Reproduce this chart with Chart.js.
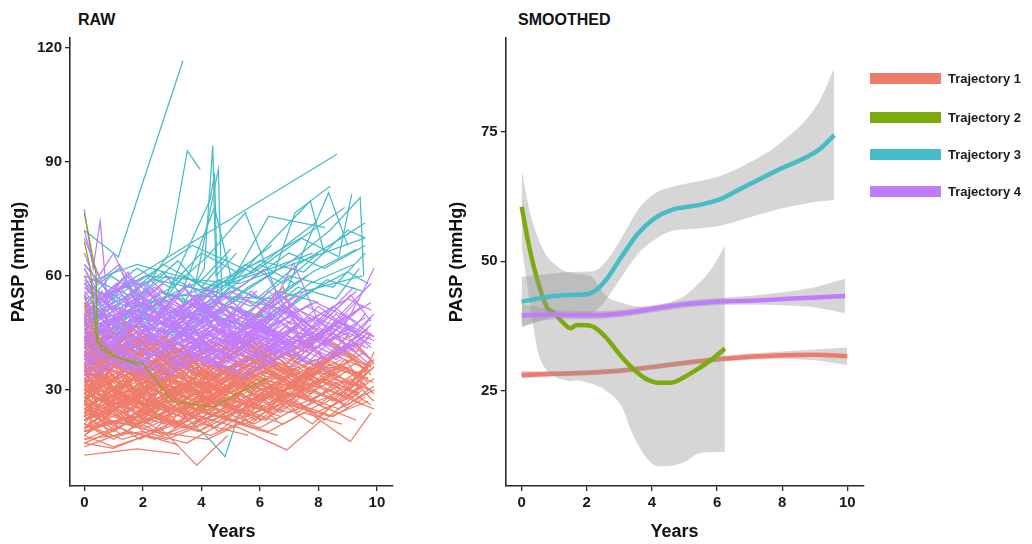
<!DOCTYPE html>
<html>
<head>
<meta charset="utf-8">
<title>PASP trajectories</title>
<script src="https://cdn.jsdelivr.net/npm/chart.js@4.4.1/dist/chart.umd.min.js"></script>
<style>
  body { margin: 0; width: 1032px; height: 544px; background: #fff; position: relative; overflow: hidden;
         font-family: "Liberation Sans", Arial, sans-serif; }
  canvas { position: absolute; top: 0; }
  #raw { left: 0; }
  #smooth { left: 438px; }
  .panel-title { position: absolute; top: 12px; font-size: 16px; line-height: 16px; font-weight: bold; color: #111; }
  .legend-row { position: absolute; left: 870px; height: 20px; display: flex; align-items: center; }
  .legend-row span.key { display: inline-block; width: 71px; height: 11px; margin-right: 7px; }
  .legend-row span.lab { font-size: 13px; font-weight: bold; color: #1a1a1a; }
</style>
</head>
<body>
<div class="panel-title" style="left:78px">RAW</div>
<div class="panel-title" style="left:518px">SMOOTHED</div>
<canvas id="raw" width="460" height="544"></canvas>
<canvas id="smooth" width="594" height="544"></canvas>
<div id="legend"></div>

<script>
const FONT = '"Liberation Sans", Arial, sans-serif';

// groups
const trajNames = ['Trajectory 1', 'Trajectory 2', 'Trajectory 3', 'Trajectory 4'];
const trajColors = ['#EF7C6A', '#7CAB10', '#45BCC6', '#C07DFB'];

// axis ticks
const rawXTicks = [0, 2, 4, 6, 8, 10];
const rawYTicks = [30, 60, 90, 120];
const smoothXTicks = [0, 2, 4, 6, 8, 10];
const smoothYTicks = [25, 50, 75];

// RAW panel: one array per patient, flat pairs of (years, PASP)
const raw1 = [
  [0,28, 0.9,24, 2.1,31, 3.4,27, 4.6,33],
  [0,35, 1.2,30, 2.5,38, 3.1,29, 4.8,36, 6.0,31],
  [0,22, 0.6,26, 1.8,20, 3.0,25, 4.4,22],
  [0,41, 1.0,36, 1.9,43, 3.3,34, 4.1,40],
  [0,19, 1.5,23, 2.7,18, 4.0,24, 5.5,21, 6.8,27],
  [0,31, 0.5,38, 1.4,29, 2.2,34, 3.8,30, 5.2,37, 6.4,33, 7.9,38, 9.2,31],
  [0,26, 1.1,21, 2.4,27, 3.7,23, 5.1,28, 6.2,25],
  [0,45, 0.8,39, 1.7,46, 2.9,38, 3.5,42],
  [0,17, 2.0,19, 3.5,16, 4.9,22, 6.3,19, 7.5,24, 8.8,21],
  [0,33, 1.3,27, 2.6,35, 4.2,28, 5.8,34, 7.0,30, 8.4,36, 9.7,33],
  [0,24, 0.7,29, 1.6,23, 3.2,30, 4.5,26],
  [0,38, 1.9,32, 3.0,40, 4.3,33, 5.6,39, 6.6,34],
  [0,21, 1.0,17, 2.3,23, 3.9,19, 5.0,25],
  [0,29, 0.4,34, 1.5,27, 2.8,33, 4.1,29, 5.4,35, 6.9,31, 8.2,37, 9.5,34],
  [0,12.8, 1.8,14.5, 3.27,13.1],
  [0,16, 0.99,14.6, 2.1,18, 3.2,15.5],
  [0,47, 0.6,41, 1.3,48, 2.0,40],
  [0,36, 1.4,41, 2.9,35, 4.6,42, 6.1,36, 7.3,41],
  [0,25, 1.2,31, 2.4,26, 3.6,32, 4.9,27, 6.5,33, 7.7,29, 9.0,35, 9.9,29],
  [0,32, 0.9,27, 2.2,33, 3.4,28, 4.7,31],
  [0,20, 1.6,25, 3.0,21, 4.5,27, 5.9,23, 7.2,28],
  [0,27, 0.5,23, 1.3,29, 2.0,24, 3.3,31],
  [0,52, 0.4,44, 1.2,37, 2.5,42],
  [0,40, 1.7,34, 3.1,41, 4.4,36, 5.7,43, 6.9,37, 8.0,44],
  [0,23, 1.1,28, 2.6,22, 4.0,29, 5.3,24, 6.7,30, 8.1,26, 9.4,32],
  [0,30, 2.1,26, 3.8,33, 5.0,28, 6.3,35, 7.6,30],
  [0,18, 0.8,22, 1.9,17, 3.1,22, 4.3,18, 5.8,23],
  [0,34, 1.0,39, 2.0,33, 3.5,38, 4.8,32, 6.0,39, 7.4,33, 8.6,40, 9.8,36],
  [0,43, 1.3,37, 2.7,44, 3.9,36],
  [0,26, 1.5,30, 2.9,25, 4.2,31, 5.5,26, 6.6,32, 7.8,28],
  [0,21, 0.7,18, 2.0,24, 3.6,20, 4.6,26, 6.2,22, 7.0,27, 8.5,23, 9.6,28],
  [0,37, 0.9,32, 2.4,38, 3.3,31, 4.5,37, 5.9,33],
  [0,29, 1.8,35, 3.2,29, 4.7,36, 6.1,30, 7.7,37, 9.1,32, 9.9,38],
  [0,24, 1.2,20, 2.5,26, 3.8,21, 5.2,27, 6.7,23],
  [0,15, 1.4,19, 2.8,17, 4.1,21, 5.6,18],
  [0,55, 0.3,46, 0.9,40, 2.0,45],
  [0,31, 1.0,26, 2.3,32, 3.7,26, 5.0,33, 6.4,28, 7.6,34, 8.9,30, 9.7,36],
  [0,39, 1.6,33, 2.8,39, 4.2,34],
  [0,27, 0.6,31, 1.8,26, 3.1,32, 4.4,27, 5.7,32, 7.1,28, 8.3,34],
  [0,19, 2.2,24, 3.9,19, 5.4,25, 6.8,21, 8.0,26, 9.3,22],
  [0,34, 1.1,29, 2.1,35, 3.5,30],
  [0,22, 1.3,27, 2.7,23, 4.3,28, 5.8,24, 7.2,29, 8.7,25, 9.9,30],
  [0,28, 0.8,33, 2.0,29, 3.0,35, 4.5,31, 6.0,36, 7.3,32],
  [0,42, 1.4,36, 2.5,42, 3.6,35, 5.0,41],
  [0,25, 1.9,21, 3.4,27, 4.8,23, 6.3,28, 7.9,24, 9.4,29],
  [0,33, 1.2,38, 2.6,32, 3.9,37, 5.3,33, 6.7,39, 8.2,34, 9.6,40],
  [0,20, 0.9,25, 2.2,21, 3.5,26, 4.9,22],
  [0,36, 1.5,31, 3.0,37, 4.5,32, 5.9,38, 7.4,33, 8.8,38],
  [0,30, 1.1,25, 2.4,30, 3.8,25, 5.1,31, 6.5,27, 7.8,32, 9.0,28, 9.9,33],
  [0,17, 1.4,21, 2.9,18, 4.7,23, 6.0,20, 7.2,25],
  [0,48, 0.7,42, 1.6,38, 2.8,43, 3.9,37],
  [0,26, 2.0,31, 3.6,26, 5.2,32, 6.9,28, 8.4,33, 9.8,30],
  [0,23, 1.0,19, 2.1,25, 3.3,21, 4.5,27, 5.9,22],
  [0,38, 1.2,34, 2.6,40, 4.0,35, 5.5,41, 7.0,36],
  [0,31, 1.7,27, 3.1,34, 4.4,29, 5.8,36, 7.1,31, 8.5,37, 9.7,33],
  [0,21, 1.3,17, 2.6,20, 3.84,10.2, 4.9,18],
  [0,27, 0.5,32, 1.6,28, 2.9,33, 4.2,28, 5.6,34, 6.8,30, 8.0,35],
  [0,35, 1.9,30, 3.4,36, 4.9,31, 6.4,37, 7.9,32, 9.2,38],
  [0,24, 1.1,29, 2.3,25, 3.6,30, 5.0,26, 6.3,31, 7.7,27, 9.1,33, 9.9,27],
  [0,29, 1.4,24, 2.8,29, 4.1,24, 5.5,30],
  [0,19, 0.9,22, 2.4,19, 3.9,23, 5.3,20, 6.92,14.2, 8.1,22],
  [0,44, 0.6,37, 1.8,43, 3.0,36, 4.3,41],
  [0,32, 1.2,37, 2.5,31, 3.9,36, 5.2,31, 6.6,37, 8.0,32, 9.3,37],
  [0,26, 1.6,22, 3.0,27, 4.6,23, 6.1,29, 7.5,25, 9.09,16.4, 9.8,24],
  [0,37, 1.0,42, 2.2,36, 3.4,41, 4.7,35, 6.2,40],
  [0,22, 1.8,27, 3.3,23, 4.8,28, 6.4,24, 7.6,30, 9.0,26, 9.9,31],
  [0,40, 1.3,35, 2.3,41, 3.7,37, 5.2,43, 6.5,38, 7.8,44, 9.2,39, 9.8,45],
  [0,28, 0.7,24, 2.0,29, 3.3,24, 4.5,29],
  [0,33, 1.6,28, 3.2,34, 4.9,29, 6.2,35, 7.6,30, 8.9,36, 9.7,32],
  [0,18, 1.0,15, 2.5,19, 4.2,17, 5.3,21, 6.6,18],
  [0,30, 2.2,36, 4.0,31, 5.7,38, 7.3,33, 8.6,39, 9.8,35],
  [0,25, 0.9,30, 2.1,26, 3.2,31, 4.6,26],
  [0,46, 1.0,39, 2.2,45, 3.4,38],
  [0,23, 1.5,28, 3.0,24, 4.5,29, 5.9,25, 7.4,31, 8.8,27, 9.6,32],
  [0,35, 1.1,30, 2.4,36, 3.9,31, 5.4,37, 7.0,32, 8.3,38, 9.5,34],
  [0,20, 1.7,23, 3.4,20, 4.5,25, 5.8,21, 7.0,26, 8.4,23, 9.7,27],
  [0,27, 0.6,22, 1.5,28, 2.6,23, 3.7,29, 5.1,25, 6.5,30, 7.9,27],
  [0,31, 1.3,35, 2.9,30, 4.3,35, 5.6,30, 7.0,36, 8.5,31, 9.9,37],
  [0,16, 1.2,20, 2.4,17, 3.9,22],
  [0,39, 2.0,34, 3.5,39, 5.0,34, 6.6,40, 8.0,36, 9.3,42, 9.8,38],
  [0,22, 1.0,27, 2.2,22, 3.6,28, 4.9,24, 6.0,30, 7.3,26, 8.7,31],
  [0,28, 1.8,33, 3.5,28, 5.3,34, 6.8,30, 8.1,35, 9.5,31],
  [0,34, 0.8,29, 1.9,34, 3.1,28, 4.4,34],
  [0,25, 1.2,21, 2.7,26, 4.0,22, 5.5,27, 7.0,24, 8.6,29, 9.9,25],
  [0,43, 1.1,38, 2.3,44, 3.6,39, 5.0,44, 6.3,39, 7.7,45],
  [0,29, 1.5,25, 2.7,30, 4.1,26, 5.4,32, 6.9,28, 8.2,33, 9.4,29],
  [0,20, 0.8,24, 2.1,20, 3.7,25, 5.1,22, 6.6,26],
  [0,36, 1.4,32, 2.8,38, 4.3,33, 5.8,39, 7.2,34, 8.8,40, 9.7,36],
  [0,24, 1.6,29, 3.2,24, 4.7,30, 6.0,27, 7.5,32, 9.0,28],
  [0,32, 1.0,28, 2.3,33, 3.7,29, 5.1,34, 6.5,30, 7.9,35, 9.2,31, 9.9,36],
  [0,38, 2.5,43, 4.6,40, 6.8,57, 7.4,42, 8.5,46],
  [0,30, 0.3,36, 0.8,27, 1.5,33, 2.2,22, 3.0,29],
  [0,42, 0.5,35, 1.1,44, 1.9,31, 2.8,37, 4.0,29, 5.2,35],
  [0,27, 1.9,38, 2.4,24, 3.6,35, 4.1,26, 5.9,37, 6.5,29],
  [0,36, 0.4,29, 1.2,40, 2.3,28, 3.3,39, 4.6,30],
  [0,23, 0.6,33, 1.4,25, 2.6,34, 3.5,22, 4.7,31, 5.8,25],
  [0,39, 1.0,30, 1.8,37, 2.9,26, 4.3,38, 5.5,28, 6.7,36, 7.8,29],
  [0,33, 0.7,22, 1.6,30, 2.7,21, 3.9,32, 5.4,23, 6.8,31],
  [0,26, 0.5,35, 1.3,30, 2.8,41, 3.7,30, 4.4,37, 6.0,27, 7.1,34],
  [0,44, 0.7,33, 1.5,41, 2.4,33, 3.6,43, 4.9,34],
  [0,21, 0.9,30, 2.0,22, 3.0,31, 4.4,23, 5.9,33, 7.3,24, 8.6,32, 9.8,26],
  [0,31, 1.2,40, 2.1,27, 3.4,37, 4.9,27, 6.3,39, 7.4,30, 8.9,42],
  [0,37, 0.3,30, 0.9,38, 1.7,28, 2.9,36],
  [0,24, 1.4,33, 2.2,26, 3.9,35, 5.0,26, 6.1,36, 7.6,28, 8.9,38, 9.7,30],
  [0,50, 0.4,41, 1.0,33, 2.1,40, 3.2,32],
  [0,28, 0.8,19, 1.9,27, 3.1,20, 4.2,30, 5.7,21, 6.9,29, 8.2,22, 9.5,30],
  [0,35, 1.5,44, 2.6,33, 3.7,42, 5.1,34, 6.2,43, 7.7,35, 9.0,44, 9.9,37],
  [0,19, 0.6,27, 1.7,20, 2.8,29, 4.0,21, 5.4,29, 6.6,22],
  [0,40, 1.1,33, 2.2,42, 3.8,34, 5.3,44, 6.9,35, 8.3,43, 9.8,36],
  [0,32, 0.5,40, 1.0,29, 2.0,37, 3.0,28, 4.1,35],
  [0,25, 1.3,18, 2.7,27, 4.4,20, 6.2,29, 7.8,21, 9.2,31],
  [0,46, 0.6,38, 1.8,47, 2.9,36, 4.1,44, 5.6,35, 7.1,46, 8.4,37],
  [0,29, 1.1,37, 2.0,26, 3.3,34, 4.3,25, 5.7,35, 7.0,27, 8.5,36, 9.9,32],
  [0,22, 2.3,29, 3.2,21, 4.8,31, 6.0,22, 7.7,33, 9.0,25],
  [0,34, 0.9,41, 2.5,30, 3.5,39, 5.0,29, 6.4,40, 7.5,32, 8.7,41, 9.6,35],
  [0,18, 1.0,25, 2.2,18, 3.4,27, 4.6,19, 6.0,28],
  [0,41, 0.4,47, 1.1,37, 2.2,45, 3.4,36, 4.8,46, 6.5,38, 7.9,47, 9.3,40],
  [0,27, 0.7,36, 1.8,28, 3.2,38, 4.5,28, 5.8,38, 7.2,30],
  [0,37, 1.5,28, 2.9,38, 4.2,29, 5.7,40, 7.4,31, 8.8,41, 9.8,34],
  [0,23, 0.5,29, 1.6,21, 2.4,30, 3.6,22, 5.1,32, 6.7,24, 8.2,33, 9.5,26],
  [0,48, 0.3,40, 0.9,46, 1.8,36, 3.0,44, 4.2,34, 5.7,44, 7.0,36, 8.6,48],
  [0,30, 1.8,22, 3.6,32, 5.5,24, 7.0,34, 8.5,27, 9.9,36],
  [0,35, 0.6,28, 1.4,37, 2.3,27, 3.2,36, 4.5,28, 6.1,37, 7.4,30, 8.1,39],
  [0,20, 1.2,27, 2.6,19, 3.8,28, 5.3,21, 6.5,30, 8.0,23, 9.4,31],
  [0,43, 1.0,36, 2.0,45, 3.1,35, 4.0,43, 5.6,36, 6.8,45, 8.3,38, 9.7,46],
  [0,26, 0.4,33, 1.5,24, 2.5,33, 4.1,25, 5.0,35, 6.4,26, 7.7,36, 9.1,28],
  [0,38, 0.8,46, 1.7,34, 2.8,44, 4.0,33, 5.4,43, 6.7,35, 8.0,45, 9.4,38],
  [0,32, 1.3,24, 2.4,34, 3.5,25, 4.8,35, 6.3,26, 7.9,37, 9.3,29, 9.9,40],
  [0,53, 0.5,45, 1.2,50, 2.0,39, 2.9,46],
  [0,24, 0.9,31, 2.3,23, 3.7,32, 5.0,24, 6.8,33, 8.0,26, 9.6,35],
  [0,29, 0.6,24, 1.6,34, 2.8,25, 4.3,34, 5.8,26, 7.3,36, 8.8,29, 9.8,38]
];

const raw2 = [
  [0,76.5, 0.4,60.5, 0.45,43, 0.6,40.5, 1.33,38, 2.0,37, 3.0,27, 4.4,25.5, 6.2,33],
  [0,69, 0.2,62, 0.42,43, 1.0,39, 1.8,36.5]
];

const raw3 = [
  [0,72, 1.16,65, 3.37,116.6],
  [0,42, 1.3,48, 2.9,66, 3.52,92.9, 3.96,88],
  [0,45, 1.3,57.6, 4.41,72.2, 8.63,92],
  [0,48, 1.8,55, 3.2,50, 4.1,62, 4.39,94.2, 4.5,60, 5.2,66],
  [0,40, 2.0,52, 3.8,58, 4.58,88, 4.7,55, 6.0,63, 7.2,58],
  [0,50, 1.0,55, 2.4,48, 4.3,80, 4.45,87, 4.55,56, 5.5,62],
  [0,44, 1.6,51, 3.0,57, 4.2,65, 5.5,76.6, 6.6,55, 7.6,60],
  [0,47, 1.4,43, 2.6,56, 4.0,52, 5.3,60, 6.24,67.8, 7.72,79.7, 8.2,66],
  [0,55, 1.2,62, 2.2,49, 3.4,60, 4.7,54, 6.3,75.7, 8.23,72.7],
  [0,41, 1.7,47, 3.3,44, 4.9,53, 6.5,61, 7.2,76.6, 8.4,83.6],
  [0,43, 1.5,50, 2.8,45, 4.4,58, 5.8,63, 7.4,70, 8.7,65, 9.14,81.5],
  [0,46, 2.2,52, 4.0,48, 5.6,57, 7.1,64, 8.4,72, 9.43,80.6, 9.55,59.9],
  [0,39, 1.0,45, 2.4,42, 3.9,50, 5.4,47, 6.9,56, 8.35,81.9, 9.0,68],
  [0,52, 0.9,60, 1.9,55, 3.2,64, 4.0,57, 4.9,65],
  [0,49, 1.3,54, 2.7,61, 3.5,53, 4.6,59, 5.9,54, 7.3,63, 8.8,70, 9.6,74],
  [3.3,24, 4.3,16.8, 4.81,12.4, 5.21,22, 5.8,30],
  [0,58, 1.4,52, 2.8,60, 4.2,55, 5.5,63, 6.8,58, 8.0,66],
  [0,38, 1.5,44, 3.0,41, 4.5,49, 6.0,46, 7.5,55, 9.0,61, 9.7,58],
  [0,63, 0.8,56, 1.8,62, 2.9,57, 4.0,66, 5.2,61, 6.4,68],
  [0,42, 2.0,47, 3.6,44, 5.0,52, 6.2,49, 7.7,58, 9.2,63],
  [0,51, 1.2,46, 2.5,53, 3.7,49, 5.0,57, 6.4,53, 7.8,61, 9.3,67],
  [0,36, 1.0,42, 2.2,39, 3.5,46, 4.8,43, 6.1,50],
  [0,47, 1.6,53, 3.1,49, 4.4,56, 5.7,52, 7.0,60, 8.5,57, 9.6,66],
  [0,54, 2.4,59, 4.2,56, 6.0,64, 7.5,61, 9.0,72, 9.6,70],
  [0,40, 1.3,47, 2.6,43, 3.8,51, 5.1,48, 6.6,56, 8.0,53],
  [0,45, 0.9,41, 2.1,49, 3.3,45, 4.5,53, 6.0,49, 7.3,57, 8.6,54, 9.4,62],
  [0,60, 1.5,55, 2.7,63, 3.9,58, 5.0,67],
  [0,43, 1.8,49, 3.5,46, 5.3,54, 6.9,51, 8.3,59, 9.5,56],
  [0,48, 1.1,52, 2.3,48, 3.4,57, 4.45,78, 5.0,60],
  [0,41, 1.4,46, 2.9,55, 4.0,51, 5.5,58, 7.0,66, 8.2,62, 9.6,68],
  [0,52, 2.1,60, 5.3,58, 9.6,70],
  [0,47, 3.0,55, 6.6,54, 9.5,60],
  [0,58, 1.8,63, 4.6,57, 7.8,66],
  [0,44, 2.6,53, 5.8,61, 8.9,78],
  [0,49, 3.7,68, 5.7,61, 7.9,74]
];

const raw4 = [
  [0,77.5, 0.3,62, 0.54,74.4, 0.8,52, 2.0,47],
  [0,45, 1.1,40, 2.3,47, 3.5,41, 4.8,46],
  [0,38, 0.8,43, 2.0,37, 3.2,44, 4.5,39, 5.8,45, 7.1,40],
  [0,52, 1.3,46, 2.6,53, 3.9,45, 5.3,50],
  [0,34, 1.5,39, 2.9,35, 4.4,41, 5.9,36, 7.2,43, 8.6,38, 9.8,44],
  [0,62, 0.6,54, 1.7,59, 2.9,50, 4.0,55],
  [0,41, 1.0,36, 2.2,42, 3.4,37, 4.7,43, 6.1,38, 7.5,44, 8.9,40],
  [0,47, 1.8,41, 3.3,48, 4.9,42, 6.4,49, 7.8,43],
  [0,36, 0.9,41, 2.1,35, 3.6,40, 5.0,35, 6.3,41, 7.7,37, 9.1,42, 9.8,38],
  [0,56, 0.7,49, 1.6,55, 2.5,47, 3.8,53, 5.1,46],
  [0,43, 1.4,48, 2.8,42, 4.2,47, 5.6,42, 7.0,48, 8.3,43, 9.6,49],
  [0,39, 1.2,34, 2.4,40, 3.7,35, 5.2,41, 6.6,36],
  [0,49, 2.0,43, 3.6,50, 5.1,44, 6.7,51, 8.2,45, 9.5,52],
  [0,32, 1.0,37, 2.5,32, 3.9,38, 5.4,33, 6.8,39],
  [0,58, 1.1,50, 2.3,56, 3.5,48, 4.8,54, 6.12,61.7, 7.0,50],
  [0,44, 0.8,39, 2.0,45, 3.1,40, 4.4,46, 5.7,41, 7.15,63.4, 8.0,48],
  [0,37, 1.6,42, 3.0,38, 4.5,44, 6.0,39, 7.4,45, 8.8,41, 9.8,47],
  [0,53, 1.3,47, 2.7,54, 4.1,48, 5.4,55],
  [0,40, 1.0,45, 2.2,39, 3.3,45, 4.6,40, 6.0,46, 7.3,41, 8.6,47, 9.9,43],
  [0,46, 1.9,51, 3.4,45, 4.8,51, 6.2,46, 7.6,52, 8.9,47, 9.5,55.6, 9.9,62],
  [0,35, 0.9,39, 2.3,34, 3.8,39, 5.3,35],
  [0,60, 0.5,53, 1.4,58, 2.6,49, 3.7,54, 4.9,47],
  [0,42, 1.5,37, 3.0,43, 4.6,38, 6.1,44, 7.6,40, 9.0,45],
  [0,50, 1.2,44, 2.4,51, 3.6,45, 4.9,52, 6.3,46, 7.8,53],
  [0,38, 2.2,43, 4.0,38, 5.5,44, 7.1,39, 8.4,45, 9.7,41],
  [0,44, 1.0,49, 2.1,43, 3.5,50, 4.9,44, 6.5,50],
  [0,33, 1.3,37, 2.6,33, 4.0,38, 5.5,34, 6.9,40, 8.4,35],
  [0,55, 0.8,48, 2.0,53, 3.2,46, 4.3,52, 5.6,46, 7.0,52, 8.5,47, 9.8,53],
  [0,41, 1.7,46, 3.1,40, 4.5,46, 6.0,41, 7.3,47],
  [0,48, 1.1,42, 2.5,48, 3.9,43, 5.4,49, 6.8,44, 8.1,50, 9.4,45],
  [0,36, 0.7,40, 1.9,36, 3.3,41, 4.7,37, 6.2,42, 7.5,38],
  [0,45, 1.4,40, 2.9,46, 4.3,41, 5.8,47, 7.3,42, 8.7,48, 9.9,44],
  [0,63, 0.9,55, 2.1,60, 3.4,51, 4.5,57],
  [0,39, 1.2,44, 2.4,39, 3.8,45, 5.1,40, 6.4,46, 7.9,41, 9.3,47],
  [0,51, 2.0,45, 3.7,52, 5.2,46, 6.6,53],
  [0,43, 0.9,38, 2.2,44, 3.6,39, 5.0,45, 6.5,40, 8.0,46],
  [0,37, 1.5,42, 3.0,37, 4.3,43, 5.7,38, 7.2,44, 8.6,39, 9.7,45],
  [0,57, 1.1,51, 2.4,57, 3.7,50, 5.0,56, 6.3,50],
  [0,40, 1.8,35, 3.4,41, 4.9,36, 6.5,42, 8.0,37, 9.5,43],
  [0,47, 1.0,52, 2.3,46, 3.6,53, 4.9,47, 6.1,53, 7.6,48, 9.0,54, 9.8,51],
  [0,34, 1.3,39, 2.7,34, 4.2,40, 5.6,35],
  [0,66, 0.4,58, 1.2,63, 2.0,54, 3.0,60],
  [0,42, 1.6,47, 3.2,42, 4.7,48, 6.3,43, 7.7,49, 9.1,44, 9.9,50],
  [0,49, 1.1,43, 2.2,50, 3.5,44, 4.8,50, 6.2,45],
  [0,38, 2.0,44, 3.8,39, 5.5,45, 7.0,40, 8.5,47, 9.8,42],
  [0,53, 0.8,47, 1.9,53, 3.1,47, 4.4,54, 5.9,48, 7.3,55],
  [0,44, 1.4,39, 2.8,45, 4.3,40, 5.8,46, 7.4,41, 8.8,48],
  [0,59, 1.0,52, 2.1,58, 3.3,50, 4.5,56, 5.8,49, 7.0,55],
  [0,36, 1.2,41, 2.5,36, 3.9,42, 5.2,37, 6.7,43, 8.2,38, 9.6,44],
  [0,46, 1.7,51, 3.3,46, 4.9,52, 6.4,47, 7.9,53, 9.3,48],
  [0,48, 0.6,56, 1.4,44, 2.4,55, 3.4,43, 4.6,53, 5.9,42, 7.2,51],
  [0,40, 0.5,33, 1.3,45, 2.5,36, 3.6,47, 4.8,37, 6.0,47, 7.5,38, 9.0,49],
  [0,55, 0.4,47, 1.1,57, 2.2,45, 3.1,55, 4.4,44, 5.6,54],
  [0,37, 1.1,46, 2.2,36, 3.5,47, 4.7,38, 6.0,48, 7.4,39, 8.6,50, 9.8,41],
  [0,45, 0.7,38, 1.8,50, 2.8,40, 4.0,52, 5.5,41, 6.9,51, 8.3,42],
  [0,70, 0.5,60, 1.0,66, 1.8,52, 2.7,58],
  [0,42, 1.5,51, 2.7,41, 4.0,50, 5.3,40, 6.8,52, 8.0,43, 9.4,54],
  [0,34, 0.8,42, 1.9,33, 3.1,43, 4.5,34, 5.8,44, 7.2,36, 8.5,45, 9.7,37],
  [0,51, 1.0,43, 2.1,54, 3.2,44, 4.2,55, 5.4,45, 6.6,56, 7.8,46],
  [0,39, 0.6,47, 1.7,38, 2.9,49, 4.3,39, 5.7,50, 7.0,41, 8.5,52, 9.9,44],
  [0,58, 0.7,50, 1.5,60, 2.5,48, 3.6,58, 4.6,47],
  [0,44, 1.3,36, 2.4,46, 3.6,37, 5.0,48, 6.4,38, 7.9,49, 9.2,40],
  [0,36, 0.9,44, 2.0,35, 3.3,45, 4.6,36, 6.1,46, 7.6,37, 9.0,47],
  [0,49, 0.5,41, 1.4,51, 2.6,42, 3.9,53, 5.1,43, 6.5,54, 7.7,44, 9.1,55, 9.8,48],
  [0,62, 0.6,52, 1.3,59, 2.3,48, 3.4,57, 4.7,47, 5.9,56],
  [0,41, 1.2,49, 2.6,40, 3.9,50, 5.3,41, 6.7,51, 8.1,42, 9.5,52],
  [0,46, 0.8,38, 2.0,47, 3.3,38, 4.5,49, 5.9,39, 7.3,50],
  [0,38, 1.6,45, 3.0,36, 4.4,46, 5.8,37, 7.2,47, 8.7,39, 9.8,49],
  [0,54, 0.9,46, 2.2,56, 3.5,45, 4.8,55, 6.2,45, 7.5,56],
  [0,43, 0.5,51, 1.6,42, 2.7,52, 3.8,42, 5.2,51, 6.6,42, 8.0,52, 9.4,44],
  [0,35, 1.4,42, 2.8,34, 4.1,43, 5.6,35, 7.0,44],
  [0,50, 1.1,58, 2.3,47, 3.4,57, 4.5,46, 5.7,56, 7.1,47],
  [0,40, 0.7,35, 1.8,44, 3.0,36, 4.2,46, 5.5,37, 6.9,47, 8.3,38, 9.6,50],
  [0,47, 1.3,55, 2.5,45, 3.8,55, 5.1,45, 6.3,56, 7.8,46, 9.2,57],
  [0,72, 0.3,63, 0.8,55, 1.5,61, 2.4,50],
  [0,42, 0.9,50, 2.1,41, 3.4,51, 4.9,40, 6.4,50, 7.7,41, 8.9,51, 9.8,58],
  [0,37, 1.0,43, 2.4,37, 3.7,44, 5.0,38, 6.5,45],
  [0,52, 0.6,45, 1.7,54, 2.8,44, 4.1,53, 5.4,43, 6.8,52, 8.2,44],
  [0,45, 1.8,38, 3.2,47, 4.6,38, 6.0,48, 7.5,40, 9.0,50],
  [0,57, 1.0,49, 2.0,58, 3.0,47, 4.2,57, 5.5,46, 6.7,55, 8.0,47, 9.3,56]
];

// SMOOTHED panel: fitted curve and confidence band per trajectory
const smX1 = [0, 1, 2, 3, 4, 5, 6, 7, 8, 9, 10];
const smMid1 = [28.1, 28.3, 28.5, 28.9, 29.6, 30.4, 31.1, 31.6, 31.9, 32.0, 31.7];
const smLo1 = [27.4, 27.8, 28.0, 28.4, 29.1, 29.9, 30.6, 31.0, 31.2, 30.9, 30.0];
const smHi1 = [28.8, 28.8, 29.0, 29.4, 30.1, 30.9, 31.6, 32.2, 32.6, 33.0, 33.4];

const smX2 = [0, 0.25, 0.5, 0.77, 1.0, 1.25, 1.5, 1.7, 2.15, 2.56, 3.07, 3.4, 3.8, 4.2, 4.6, 5.0, 5.4, 5.8, 6.24];
const smMid2 = [60.5, 52.2, 46.0, 41.2, 40.0, 38.3, 37.1, 37.7, 37.5, 35.5, 31.6, 29.4, 27.4, 26.6, 26.6, 27.7, 29.2, 30.9, 33.2];
const smLo2 = [53.0, 42.0, 32.5, 29.0, 27.8, 27.2, 26.9, 27.0, 26.4, 25.2, 22.0, 16.8, 12.4, 10.5, 10.6, 11.3, 12.9, 13.2, 13.3];
const smHi2 = [67.6, 59.5, 54.5, 51.0, 49.5, 48.3, 47.8, 47.6, 47.0, 43.5, 42.0, 41.4, 41.2, 41.5, 42.2, 43.3, 45.5, 48.3, 53.0];

const smX3 = [0, 0.5, 1.0, 1.5, 2.05, 2.3, 2.66, 3.07, 3.58, 4.09, 4.61, 5.42, 6.04, 6.86, 7.88, 9.11, 9.6];
const smMid3 = [42.2, 42.8, 43.3, 43.5, 43.7, 44.5, 47.0, 50.9, 55.4, 58.3, 59.9, 60.8, 61.8, 64.4, 67.6, 71.4, 74.3];
const smLo3 = [37.5, 38.5, 39.3, 39.6, 39.8, 40.5, 43.2, 47.0, 51.5, 54.2, 55.8, 56.3, 56.8, 58.2, 60.0, 61.5, 61.8];
const smHi3 = [47.0, 47.3, 47.7, 47.9, 48.0, 48.3, 50.5, 54.5, 60.0, 63.1, 64.3, 65.4, 66.3, 68.6, 72.5, 80.5, 87.2];

const smX4 = [0, 1, 2, 3, 4, 5, 6, 7, 8, 9, 9.93];
const smMid4 = [39.6, 39.7, 39.6, 39.9, 40.8, 41.7, 42.2, 42.4, 42.7, 43.0, 43.3];
const smLo4 = [37.3, 38.8, 38.8, 39.2, 40.1, 41.0, 41.5, 41.6, 41.5, 41.1, 40.0];
const smHi4 = [41.8, 40.6, 40.4, 40.6, 41.5, 42.4, 42.9, 43.3, 44.0, 45.0, 46.6];

const bandColor = 'rgba(153,153,153,0.4)';

function toPoints(flat) {
  let pts = [];
  for (let i = 0; i < flat.length; i += 2) pts.push({ x: flat[i], y: flat[i + 1] });
  return pts;
}

function makeScale(min, max, tickValues, fitSize, isX, titleText, titlePad) {
  return {
    type: 'linear',
    min: min,
    max: max,
    afterBuildTicks: (s) => { s.ticks = tickValues.map(v => ({ value: v })); },
    afterFit: (s) => { if (isX) s.height = fitSize; else s.width = fitSize; },
    border: { display: true, color: '#2b2b2b', width: 1.6 },
    grid: { display: true, drawOnChartArea: false, drawTicks: true, tickLength: 5, color: '#2b2b2b', lineWidth: 1.3 },
    ticks: { color: '#1a1a1a', font: { family: FONT, size: 15, weight: 'bold' }, padding: 3, maxRotation: 0, autoSkip: false },
    title: { display: true, text: titleText, color: '#111', font: { family: FONT, size: 18, weight: 'bold' }, padding: titlePad }
  };
}

function rawLine(flat, color) {
  return { data: toPoints(flat), borderColor: color, borderWidth: 1.25, pointRadius: 0, fill: false, tension: 0 };
}

// raw lines: green on top, salmon and purple interleaved, teal underneath
// (Chart.js paints dataset 0 last, so it ends up on top)
let rawSets = raw2.map(p => rawLine(p, trajColors[1]));
const longest = Math.max(raw1.length, raw4.length);
for (let i = 0; i < longest; i++) {
  if (raw1[i]) rawSets.push(rawLine(raw1[i], trajColors[0]));
  if (raw4[i]) rawSets.push(rawLine(raw4[i], trajColors[3]));
}
raw3.forEach(p => rawSets.push(rawLine(p, trajColors[2])));

new Chart(document.getElementById('raw'), {
  type: 'line',
  data: { datasets: rawSets },
  options: {
    responsive: false,
    animation: false,
    events: [],
    layout: { padding: { top: 38, right: 67, left: 0, bottom: 0 } },
    plugins: { legend: { display: false }, tooltip: { enabled: false } },
    scales: {
      x: makeScale(-0.49, 10.55, rawXTicks, 58, true, 'Years', { top: 0, bottom: 1 }),
      y: makeScale(4.7, 122.6, rawYTicks, 70, false, 'PASP (mmHg)', { top: 8, bottom: 0 })
    }
  }
});

// smoothed: ribbon then line per group, later groups on top
const smooth = [
  { x: smX1, mid: smMid1, lo: smLo1, hi: smHi1 },
  { x: smX2, mid: smMid2, lo: smLo2, hi: smHi2 },
  { x: smX3, mid: smMid3, lo: smLo3, hi: smHi3 },
  { x: smX4, mid: smMid4, lo: smLo4, hi: smHi4 }
];
let smoothSets = [];
smooth.forEach((s, k) => {
  const pts = (arr) => s.x.map((x, i) => ({ x: x, y: arr[i] }));
  const base = (3 - k) * 2;
  smoothSets.push({ data: pts(s.hi), fill: '+1', backgroundColor: bandColor, borderColor: 'transparent',
    borderWidth: 0, pointRadius: 0, cubicInterpolationMode: 'monotone', order: base + 1 });
  smoothSets.push({ data: pts(s.lo), fill: false, borderColor: 'transparent',
    borderWidth: 0, pointRadius: 0, cubicInterpolationMode: 'monotone', order: base + 1 });
  smoothSets.push({ data: pts(s.mid), fill: false, borderColor: trajColors[k], borderWidth: 4.5,
    pointRadius: 0, cubicInterpolationMode: 'monotone', order: base });
});

new Chart(document.getElementById('smooth'), {
  type: 'line',
  data: { datasets: smoothSets },
  options: {
    responsive: false,
    animation: false,
    events: [],
    layout: { padding: { top: 38, right: 168.7, left: 0, bottom: 0 } },
    plugins: { legend: { display: false }, tooltip: { enabled: false } },
    scales: {
      x: makeScale(-0.49, 10.49, smoothXTicks, 58, true, 'Years    ', { top: 0, bottom: 1 }),
      y: makeScale(6.7, 93, smoothYTicks, 67.7, false, 'PASP (mmHg)', { top: 8, bottom: 0 })
    }
  }
});

// legend
const legendY = [78, 117, 154, 191];
const legend = document.getElementById('legend');
trajNames.forEach((name, i) => {
  let row = document.createElement('div');
  row.className = 'legend-row';
  row.style.top = (legendY[i] - 10) + 'px';
  let key = document.createElement('span');
  key.className = 'key';
  key.style.background = trajColors[i];
  let lab = document.createElement('span');
  lab.className = 'lab';
  lab.textContent = name;
  row.appendChild(key);
  row.appendChild(lab);
  legend.appendChild(row);
});
</script>
</body>
</html>
